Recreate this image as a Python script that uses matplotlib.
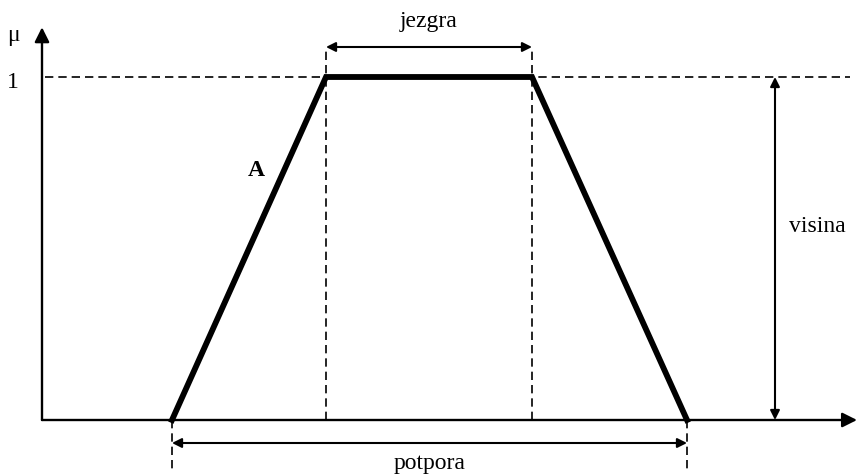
import matplotlib
matplotlib.use("Agg")
import matplotlib.pyplot as plt

# trapezoid membership function A (x in arbitrary units, mu in [0, 1])
trap_x = [1.30, 2.84, 4.90, 6.45]
trap_mu = [0.0, 1.0, 1.0, 0.0]

# annotation labels
label_set = "A"
label_core = "jezgra"
label_support = "potpora"
label_height = "visina"
label_axis = "\u03bc"
label_one = "1"

height_x = 7.33

plt.rcParams['font.family'] = ['Liberation Serif', 'DejaVu Serif']

fig = plt.figure(figsize=(8.57, 4.74), dpi=100)
ax = fig.add_axes([0, 0, 1, 1])
ax.set_xlim(-0.42, 8.15)
ax.set_ylim(-54 / 343, 420 / 343)
ax.axis('off')

mu_top = max(trap_mu)

# axes with arrow heads
ax.annotate('', xy=(8.15, 0), xytext=(0, 0),
            arrowprops=dict(arrowstyle='-|>', lw=1.7, color='black',
                            mutation_scale=22, shrinkA=0, shrinkB=0))
ax.annotate('', xy=(0, 1.145), xytext=(0, 0),
            arrowprops=dict(arrowstyle='-|>', lw=1.7, color='black',
                            mutation_scale=22, shrinkA=0, shrinkB=0))

# dashed guide lines
dash = (0, (5, 3))
ax.plot([0.03, 8.08], [mu_top, mu_top], color='black', lw=1.2, linestyle=dash)
core_top = (420 - 47) / 343
for xv in trap_x[1:3]:
    ax.plot([xv, xv], [0, core_top], color='black', lw=1.2, linestyle=dash)
sup_bottom = (420 - 472) / 343
for xv in (trap_x[0], trap_x[3]):
    ax.plot([xv, xv], [0, sup_bottom], color='black', lw=1.2, linestyle=dash)

# the trapezoid itself
ax.plot(trap_x, trap_mu, color='black', lw=4.2, solid_joinstyle='miter')

# double arrows
arrow_kw = dict(arrowstyle='<|-|>', lw=1.5, color='black',
                mutation_scale=14, shrinkA=0, shrinkB=0)
ax.annotate('', xy=(trap_x[1], core_top), xytext=(trap_x[2], core_top), arrowprops=arrow_kw)
sup_y = -23 / 343
ax.annotate('', xy=(trap_x[0], sup_y), xytext=(trap_x[3], sup_y), arrowprops=arrow_kw)
ax.annotate('', xy=(height_x, 0), xytext=(height_x, mu_top), arrowprops=arrow_kw)

# texts
fs = 17
ax.text((trap_x[1] + trap_x[2]) / 2, (420 - 22) / 343, label_core,
        ha='center', va='center', fontsize=fs)
ax.text((trap_x[0] + trap_x[3]) / 2, (420 - 463) / 343, label_support,
        ha='center', va='center', fontsize=fs)
ax.text(7.75, (420 - 227) / 343, label_height, ha='center', va='center', fontsize=fs)
ax.text(2.14, (420 - 170) / 343, label_set, ha='center', va='center',
        fontsize=fs, fontweight='bold')
ax.text(-0.29, (420 - 36) / 343, label_axis, ha='center', va='center', fontsize=fs)
ax.text(-0.29, (420 - 83) / 343, label_one, ha='center', va='center', fontsize=fs)

fig.savefig('out.png', dpi=100)
